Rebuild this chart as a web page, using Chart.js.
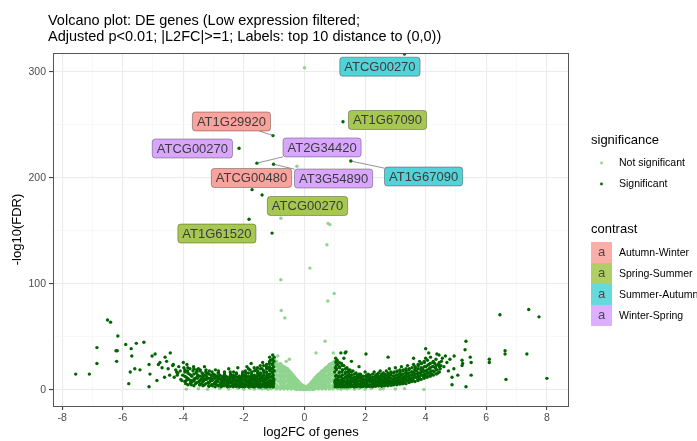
<!DOCTYPE html>
<html>
<head>
<meta charset="utf-8">
<script src="https://cdn.jsdelivr.net/npm/chart.js@4.4.0/dist/chart.umd.min.js"></script>
<style>
  html, body { margin: 0; padding: 0; background: #fff; }
  #wrap { width: 697px; height: 441px; }
</style>
</head>
<body>
<div id="wrap"><canvas id="volcano" width="697" height="441"></canvas></div>
<script>
// ---- data ----
const xTicks = [-8,-7,-6,-5,-4,-3,-2,-1,0,1,2,3,4,5,6,7,8];
const yTicks = [0,50,100,150,200,250,300];

const contrasts = ['Autumn-Winter', 'Spring-Summer', 'Summer-Autumn', 'Winter-Spring'];
const contrastColors = ['#F8766D', '#7CAE00', '#00BFC4', '#C77CFF'];

// labelled genes (box centre + the gene point it belongs to)
const labelGenes = ['ATCG00270','AT1G67090','AT2G34420','AT1G67090','AT3G54890','ATCG00480','AT1G29920','ATCG00270','ATCG00270','AT1G61520'];
const labelContrast = [2, 1, 3, 2, 3, 0, 0, 3, 1, 1];
const labelBoxX = [2.49, 2.74, 0.58, 3.93, 0.96, -1.75, -2.41, -3.70, 0.10, -2.89];
const labelBoxY = [305, 254.7, 228.8, 201.4, 199.5, 200, 253.3, 227.8, 173.6, 147.6];
const labelPtX = [3.3, 1.27, -1.57, 1.53, -1.02, -1.73, -1.04, -2.16, -1.4, -1.86];
const labelPtY = [317, 253, 214, 216, 213, 189, 240, 228, 184, 143.5];
const labelSegment = [0, 0, 1, 1, 1, 0, 1, 0, 0, 0];

// significant genes: high ones + outliers
const sigHigh = [[3.3,317],[1.27,253],[-1.57,214],[1.53,216],[-1.02,213],[-1.73,189],[-1.4,184],
  [-1.04,240],[-2.16,228],[-1.83,161],[-1.07,148],[-1.86,143.5]];
const sigOutLeft = [[-7.55,15],[-7.1,15],[-6.85,40],[-6.85,25],[-6.5,66],[-6.4,64],[-6.16,51],[-6.22,37],
  [-6.18,37],[-6.2,27],[-5.9,43],[-5.8,6],[-5.75,17],[-5.72,39],[-5.7,32],[-5.6,20],[-5.55,44],[-5.43,19],
  [-5.3,45],[-5.13,24],[-5.13,3],[-5.1,15],[-5.03,32],[-4.93,34],[-4.87,9],[-4.77,26],[-4.7,21],[-4.6,31],
  [-4.43,35],[-4.33,24],[-4.2,14],[-4.22,17],[-4.18,16],[-4.0,26],[-3.9,9],[-4.82,24],[-4.62,12],
  [-4.5,20],[-4.45,14],[-4.35,23],[-4.3,12],[-4.25,19],[-4.15,22],[-4.1,18],[-4.08,10],[-4.55,27]];
const sigLeft = [[-4.02,14],[-3.98,21],[-4.05,9],[-3.95,17],[-3.9,12],[-3.88,24],[-3.92,6],[-3.86,18],
  [-3.8,15],[-3.82,10],[-3.78,20],[-3.76,7],[-3.72,13],[-3.68,18],[-3.7,8],[-3.66,22],[-3.74,5],
  [-3.62,11],[-3.58,16],[-3.6,6],[-3.56,19],[-3.64,9],[-3.52,14],[-3.48,8],[-3.5,20],[-3.46,5],[-3.54,11],
  [-3.42,10],[-3.38,16],[-3.4,6],[-3.36,13],[-3.44,19],[-3.32,9],[-3.28,14],[-3.3,5],[-3.26,17],[-3.34,11],[-3.3,22],
  [-3.22,12],[-3.18,7],[-3.2,16],[-3.16,4],[-3.24,10],[-3.12,8],[-3.08,14],[-3.1,11],[-3.06,5],[-3.14,18],
  [-3.02,10],[-2.98,6],[-3.0,15],[-2.96,12],[-3.04,4],[-2.94,19],[-2.92,8],[-2.88,13],[-2.9,5],[-2.86,10],[-2.84,16],[-2.94,7],
  [-2.82,11],[-2.78,6],[-2.8,14],[-2.76,4],[-2.74,9],[-2.84,18],[-2.72,7],[-2.68,12],[-2.7,4],[-2.66,9],[-2.64,15],[-2.74,6],
  [-2.62,10],[-2.58,5],[-2.6,13],[-2.56,8],[-2.54,3.5],[-2.64,17],[-2.52,6],[-2.48,11],[-2.5,4],[-2.46,8],[-2.44,14],[-2.54,9],[-2.5,20],
  [-2.42,7],[-2.38,12],[-2.4,4],[-2.36,9],[-2.34,5],[-2.44,15],[-2.32,10],[-2.28,6],[-2.3,13],[-2.26,3.5],[-2.24,8],[-2.34,17],
  [-2.22,5],[-2.18,9],[-2.2,12],[-2.16,4],[-2.14,7],[-2.24,15],[-2.2,21],[-2.12,8],[-2.08,4],[-2.1,11],[-2.06,6],[-2.04,14],[-2.14,3],
  [-2.02,6],[-1.98,10],[-2.0,4],[-1.96,13],[-1.94,8],[-2.04,17],[-1.98,3],[-1.92,5],[-1.88,9],[-1.9,12],[-1.86,3.5],[-1.84,7],[-1.94,16],[-1.9,22],
  [-1.82,8],[-1.78,4],[-1.8,11],[-1.76,6],[-1.74,14],[-1.84,3],[-1.8,19],[-1.76,25],[-1.72,6],[-1.68,10],[-1.7,4],[-1.66,13],[-1.64,8],[-1.74,17],[-1.7,3],[-1.66,21],
  [-1.62,9],[-1.58,5],[-1.6,12],[-1.56,7],[-1.54,15],[-1.64,3.5],[-1.6,19],[-1.56,4],
  [-1.52,7],[-1.48,11],[-1.5,4],[-1.46,14],[-1.44,9],[-1.54,18],[-1.5,3],[-1.46,23],[-1.48,6],
  [-1.42,10],[-1.38,5],[-1.4,13],[-1.36,8],[-1.34,16],[-1.44,3],[-1.4,20],[-1.36,4],[-1.38,26],
  [-1.32,6],[-1.28,12],[-1.3,9],[-1.26,4],[-1.24,15],[-1.34,18],[-1.3,3],[-1.26,22],[-1.28,7],
  [-1.22,11],[-1.18,5],[-1.2,14],[-1.16,8],[-1.14,18],[-1.24,3],[-1.2,21],[-1.16,25],[-1.18,4],[-1.22,7],
  [-1.12,9],[-1.08,13],[-1.1,5],[-1.06,17],[-1.04,11],[-1.14,3],[-1.1,20],[-1.06,24],[-1.08,7],[-1.12,28],[-1.04,4],
  [-1.02,6],[-1.01,10],[-1.03,14],[-1.0,18],[-1.02,22],[-1.01,27],[-1.03,3],[-1.0,31],[-1.02,8],[-1.05,33],[-1.15,31]];
const sigRight = [[1.02,5],[1.01,9],[1.03,13],[1.0,17],[1.02,21],[1.04,26],[1.01,3],[1.03,30],[1.0,7],
  [1.08,8],[1.12,12],[1.1,4],[1.14,16],[1.06,20],[1.1,24],[1.12,3],[1.08,28],[1.14,6],[1.1,10],
  [1.18,5],[1.22,9],[1.2,13],[1.24,17],[1.16,21],[1.2,3],[1.22,25],[1.18,7],[1.24,11],
  [1.28,7],[1.32,11],[1.3,4],[1.34,15],[1.26,19],[1.3,23],[1.32,3],[1.28,9],
  [1.38,6],[1.42,10],[1.4,13],[1.44,4],[1.36,17],[1.4,21],[1.42,8],[1.38,3],
  [1.48,5],[1.52,9],[1.5,12],[1.54,3.5],[1.46,15],[1.5,19],[1.52,7],[1.58,8],[1.62,4],[1.6,11],[1.64,6],[1.56,14],[1.6,18],[1.62,3],
  [1.68,6],[1.72,10],[1.7,4],[1.74,13],[1.66,8],[1.7,16],[1.72,3],[1.78,5],[1.82,9],[1.8,12],[1.84,3.5],[1.76,7],[1.8,15],
  [1.88,8],[1.92,4],[1.9,11],[1.94,6],[1.86,14],[1.9,3],[1.98,6],[2.02,10],[2.0,4],[2.04,13],[1.96,8],[2.0,17],
  [2.08,5],[2.12,9],[2.1,12],[2.14,3.5],[2.06,7],[2.1,15],[2.18,8],[2.22,4],[2.2,11],[2.24,6],[2.16,14],
  [2.28,6],[2.32,10],[2.3,4],[2.34,13],[2.26,8],[2.3,17],[2.38,5],[2.42,9],[2.4,12],[2.44,4],[2.36,7],[2.4,15],
  [2.48,8],[2.52,5],[2.5,11],[2.54,14],[2.46,6],[2.5,18],[2.58,7],[2.62,10],[2.6,4.5],[2.64,13],[2.56,9],[2.6,16],
  [2.68,6],[2.72,11],[2.7,8],[2.74,14],[2.66,5],[2.7,18],[2.78,9],[2.82,6],[2.8,12],[2.84,15],[2.76,7],[2.8,20],
  [2.88,7],[2.92,10],[2.9,5],[2.94,13],[2.86,16],[2.98,8],[3.02,11],[3.0,6],[3.04,14],[2.96,17],[3.0,21],
  [3.08,9],[3.12,12],[3.1,7],[3.14,15],[3.06,18],[3.18,8],[3.22,11],[3.2,14],[3.24,6],[3.16,17],[3.2,22],
  [3.28,10],[3.32,13],[3.3,7],[3.34,16],[3.26,19],[3.38,9],[3.42,12],[3.4,15],[3.44,8],[3.36,18],[3.4,23],
  [3.48,11],[3.52,14],[3.5,8],[3.54,17],[3.46,20],[3.58,10],[3.62,13],[3.6,16],[3.64,19],[3.56,9],[3.6,24],
  [3.68,12],[3.72,15],[3.7,18],[3.74,10],[3.66,21],[3.78,13],[3.82,16],[3.8,11],[3.84,19],[3.76,23],[3.8,27],
  [3.88,14],[3.92,17],[3.9,20],[3.94,12],[3.86,25],[3.98,15],[4.02,18],[4.0,22],[4.04,13],[3.96,26],[4.0,30],
  [4.08,16],[4.12,20],[4.1,24],[4.14,14],[4.06,28],[4.18,18],[4.22,22],[4.2,15],[4.24,26],[4.16,31],
  [4.28,17],[4.32,21],[4.3,25],[4.34,29],[4.38,19],[4.42,24],[4.4,16],[4.44,33],[4.48,20],[4.52,27],[4.5,23],[4.55,30]];
const sigOutRight = [[1.2,35],[1.34,35],[1.37,36],[1.3,30],[1.55,27],[1.8,22],[2.03,34],[2.76,31],[3.6,30],[4.1,35],
  [4.37,34],[4.0,39],[4.6,22],[4.65,32],[4.7,26],[4.75,18],[4.8,29],[4.87,12],[4.87,5],[4.93,20],[4.94,32],
  [5.06,14],[5.2,28],[5.22,25],[5.2,23],[5.3,38],[5.33,46],[5.33,3],[5.47,31],[5.5,26],[5.5,14],[6.1,29],
  [6.1,26],[6.45,71],[6.62,37],[6.62,34],[6.65,10],[7.34,34],[7.4,76],[7.74,69],[8.0,11]];

// dense cores of the two significant bands, as columns (x, list of -log10 FDR)
const coreLX = [-3.95,-3.85,-3.75,-3.65,-3.55,-3.45,-3.35,-3.25,-3.15,-3.05,-2.95,-2.85,-2.75,-2.65,-2.55,
  -2.45,-2.35,-2.25,-2.15,-2.05,-1.95,-1.85,-1.75,-1.65,-1.55,-1.45,-1.35,-1.25,-1.15,-1.05];
const coreLY = [[8,13,19],[5,11,16,21],[9,14,6],[4,10,15,20],[7,12,17],[5,9,13,18],[4,8,12,15],[6,10,14,19],
  [3.5,7,11,15],[5,9,13,17],[3,7,11,14],[4,8,12,16],[3,6,10,13],[4,7,11,14],[3,6,9,12],[3.5,7,10,13,17],
  [3,5,8,11,14],[3.5,6,9,12,16],[3,5,8,10,13],[3,6,9,12,15],[3.5,5,8,11,14,18],[3,6,9,13,16,20],
  [3.5,5,8,10,12,15],[3,6,9,11,14,18],[3.5,5,8,10,13,16,21],[3,6,9,12,16,20],[3.5,5,7,11,14,18,23],
  [3,6,10,13,17,20,24],[3.5,6,9,12,15,19,22,27],[3,5,8,12,16,20,25,29]];
const coreRX = [1.05,1.15,1.25,1.35,1.45,1.55,1.65,1.75,1.85,1.95,2.05,2.15,2.25,2.35,2.45,2.55,2.65,2.75,
  2.85,2.95,3.05,3.15,3.25,3.35,3.45,3.55,3.65,3.75,3.85,3.95,4.05,4.15,4.25,4.35,4.45];
const coreRY = [[3,6,10,14,19,23,27],[3.5,5,9,13,17,22,26],[3,6,10,14,19,23],[3.5,5,8,12,16,20],[3,6,9,13,17,19],
  [3.5,5,8,11,14,17],[3,6,9,12,15],[3.5,5,8,11,14],[3,6,9,12,15],[3.5,5,7,10,13],[3,6,9,12,14],[3.5,5,8,10,13],
  [3,6,9,12,15],[3.5,5,8,11,14],[4,7,10,13,16],[3.5,6,9,12,15],[4,7,10,12,15],[4,6,9,12,16],[4.5,8,11,14,17],
  [5,7,10,13,16],[5,8,11,14,17],[5.5,9,12,15,19],[6,9,12,15,18],[6,10,13,16,20],[7,10,13,16,19],[8,11,14,17,21],
  [8,12,15,18,22],[9,13,16,20,24],[10,14,17,21,25],[11,14,18,22,27],[12,16,19,23],[13,17,21,25],[14,18,22,27],
  [15,19,23],[17,22,26]];

// not significant: centre cloud as columns (x, list of -log10 FDR)
const nsColX = [-0.98,-0.95,-0.92,-0.89,-0.86,-0.83,-0.8,-0.77,-0.74,-0.71,-0.68,-0.65,-0.62,-0.59,-0.56,-0.53,
  -0.5,-0.47,-0.44,-0.41,-0.38,-0.35,-0.32,-0.29,-0.26,-0.23,-0.2,-0.17,-0.14,-0.11,-0.08,-0.05,-0.02,0.01,
  0.04,0.07,0.1,0.13,0.16,0.19,0.22,0.25,0.28,0.31,0.34,0.37,0.4,0.43,0.46,0.49,0.52,0.55,0.58,0.61,0.64,
  0.67,0.7,0.73,0.76,0.79,0.82,0.85,0.88,0.91,0.94,0.97,0.98];
const nsColY = [[2,7,13,19,25,28],[4,10,16,22,26],[1,5,11,17,22,27],[3,9,14,19,24],[3,8,14,20,24],[2,8,13,18,23],
  [1,6,11,16,21,25],[4,9,14,20,24],[2,7,12,18,23],[3,8,13,17,21],[1,5,10,15,19,22],[2,7,12,16,20],[3,8,13,17,21],
  [4,9,13,17,20],[1,5,10,14,18,20],[3,8,12,16,19],[2,6,11,15,18],[3,7,10,14,17],[1,4,8,12,16],[2,6,10,13,15],
  [2,5,9,12,14],[3,6,9,11,13],[1,4,7,10,12],[2,5,8,10,11],[0.5,3,6,8,10],[2,4,6,8,9],[1,3,5,7,8],[1.5,3,5,7],
  [0.5,2,4,6],[1.5,3,4.5,5.5],[1,2.5,4.5],[0.5,1.5,3,4],[0.5,2,3.5],[1,2.5,3.5],[0.5,1.5,3],[1,2,3],[1,2,3.5],
  [1.5,3,4.5],[0.5,2.5,5],[1.5,3.5,5,6],[1,3,5,7],[2,4,6,8],[0.5,3,6,9],[2,5,7,9,10],[1,4,7,9,11],[3,6,9,11,12],
  [2,5,8,11,13],[3,6,10,12,14],[1,4,8,12,15],[3,7,10,13,15],[2,6,10,13,16],[3,8,11,14,17],[1,5,9,13,16,18],
  [4,8,12,16,18],[2,6,11,15,19],[3,8,13,17,20],[1,5,10,14,18,21],[4,9,14,18,21],[3,7,12,17,22],[3,9,14,19,23],
  [1,6,11,16,20,24],[4,10,15,20,24],[2,8,13,18,22,25],[3,9,15,20,25],[1,5,10,15,20,26],[4,11,17,22,26],[3,9,14,19,24,27]];
const nsOther = [[0.0,304],[-0.25,211],[-0.78,162],[0.78,157],[0.84,156],[0.74,137],[0.18,115],[0.77,84],
  [0.98,91],[0.68,46],[0.38,35],[0.95,35],[-0.78,104],[-0.77,75],[-0.65,68],[-0.5,29],[-0.88,32],[-0.6,27],
  [-3.9,0.8],[-3.5,1.2],[-3.2,0.6],[-2.8,1.4],[-2.5,0.9],[-2.2,1.5],[-2.0,0.7],[-1.8,1.3],[-1.65,0.8],
  [-1.5,1.6],[-1.4,0.9],[-1.3,1.5],[-1.2,0.6],[-1.1,1.2],[1.1,1.2],[1.2,0.6],[1.3,1.5],[1.4,0.9],[1.5,1.6],
  [1.65,0.8],[1.8,1.3],[2.0,0.7],[2.2,1.4],[2.5,0.8],[2.6,1.2],[3.0,0.9],[3.3,1.3],[3.94,0.5]];

// ---- helpers ----
const pts = arr => arr.map(p => ({ x: p[0], y: p[1] }));
const cols = (xs, ys) => {
  const out = [];
  xs.forEach((x, i) => ys[i].forEach(y => out.push({ x: x, y: y })));
  return out;
};

const FONT = '"Liberation Sans", Arial, sans-serif';
const SIG = '#006400';
const NS = '#8fd48f';

function alphaMix(hex, a) {
  const r = parseInt(hex.slice(1, 3), 16), g = parseInt(hex.slice(3, 5), 16), b = parseInt(hex.slice(5, 7), 16);
  const m = c => Math.round(c * a + 255 * (1 - a));
  return 'rgb(' + m(r) + ',' + m(g) + ',' + m(b) + ')';
}

function roundRect(ctx, x, y, w, h, r) {
  ctx.beginPath();
  ctx.moveTo(x + r, y);
  ctx.lineTo(x + w - r, y);
  ctx.quadraticCurveTo(x + w, y, x + w, y + r);
  ctx.lineTo(x + w, y + h - r);
  ctx.quadraticCurveTo(x + w, y + h, x + w - r, y + h);
  ctx.lineTo(x + r, y + h);
  ctx.quadraticCurveTo(x, y + h, x, y + h - r);
  ctx.lineTo(x, y + r);
  ctx.quadraticCurveTo(x, y, x + r, y);
  ctx.closePath();
}

const deco = {
  id: 'deco',
  beforeDraw(chart) {
    const ctx = chart.ctx;
    ctx.save();
    ctx.fillStyle = '#fff';
    ctx.fillRect(0, 0, chart.width, chart.height);
    ctx.restore();
  },
  afterDatasetsDraw(chart) {
    const ctx = chart.ctx, a = chart.chartArea;
    const xs = chart.scales.x, ys = chart.scales.y;
    ctx.save();
    // panel border
    ctx.strokeStyle = '#555';
    ctx.lineWidth = 1;
    ctx.strokeRect(a.left + 0.5, a.top + 0.5, a.right - a.left - 1, a.bottom - a.top);

    ctx.font = '13px ' + FONT;
    const boxes = labelGenes.map((g, i) => {
      const w = ctx.measureText(g).width + 9, h = 19;
      const cx = xs.getPixelForValue(labelBoxX[i]), cy = ys.getPixelForValue(labelBoxY[i]);
      return { x: cx - w / 2, y: cy - h / 2, w: w, h: h, cx: cx, cy: cy };
    });
    // segments
    ctx.strokeStyle = '#666';
    ctx.lineWidth = 0.7;
    boxes.forEach((b, i) => {
      if (!labelSegment[i]) return;
      const px = xs.getPixelForValue(labelPtX[i]), py = ys.getPixelForValue(labelPtY[i]);
      const dx = b.cx - px, dy = b.cy - py;
      let t = 1;
      if (dx !== 0) t = Math.min(t, Math.abs((b.w / 2) / dx));
      if (dy !== 0) t = Math.min(t, Math.abs((b.h / 2) / dy));
      const ex = b.cx - dx * t, ey = b.cy - dy * t;
      ctx.beginPath();
      ctx.moveTo(px, py);
      ctx.lineTo(ex, ey);
      ctx.stroke();
    });
    // labels
    boxes.forEach((b, i) => {
      roundRect(ctx, b.x, b.y, b.w, b.h, 3);
      ctx.fillStyle = alphaMix(contrastColors[labelContrast[i]], 0.68);
      ctx.fill();
      ctx.strokeStyle = 'rgba(0,0,0,0.4)';
      ctx.lineWidth = 0.8;
      ctx.stroke();
      ctx.fillStyle = '#3c3c3c';
      ctx.textAlign = 'center';
      ctx.textBaseline = 'middle';
      ctx.fillText(labelGenes[i], b.cx, b.cy + 0.5);
    });
    ctx.restore();
  },
  afterDraw(chart) {
    const ctx = chart.ctx, a = chart.chartArea;
    ctx.save();
    ctx.fillStyle = '#000';
    ctx.textAlign = 'left';
    ctx.textBaseline = 'alphabetic';
    ctx.font = '14.5px ' + FONT;
    ctx.fillText('Volcano plot: DE genes (Low expression filtered;', 48, 25);
    ctx.fillText('Adjusted p<0.01; |L2FC|>=1; Labels: top 10 distance to (0,0))', 48, 41);

    // axis titles
    ctx.font = '13px ' + FONT;
    ctx.textAlign = 'center';
    ctx.fillText('log2FC of genes', (a.left + a.right) / 2, 436);
    ctx.save();
    ctx.translate(21, (a.top + a.bottom) / 2);
    ctx.rotate(-Math.PI / 2);
    ctx.fillText('-log10(FDR)', 0, 0);
    ctx.restore();

    // legend: significance
    ctx.textAlign = 'left';
    ctx.font = '13px ' + FONT;
    ctx.fillText('significance', 591, 144);
    ctx.fillText('contrast', 591, 233);
    ctx.font = '10.5px ' + FONT;
    ctx.textBaseline = 'middle';
    [['Not significant', NS, 163], ['Significant', SIG, 184]].forEach(it => {
      ctx.fillStyle = it[1];
      ctx.beginPath();
      ctx.arc(601.5, it[2], 1.4, 0, Math.PI * 2);
      ctx.fill();
      ctx.fillStyle = '#000';
      ctx.fillText(it[0], 619, it[2]);
    });
    // legend: contrast
    contrasts.forEach((c, i) => {
      const y0 = 242 + i * 21;
      ctx.fillStyle = alphaMix(contrastColors[i], 0.6);
      ctx.fillRect(591, y0, 21, 21);
      ctx.fillStyle = '#4a4a4a';
      ctx.textAlign = 'center';
      ctx.font = '13px ' + FONT;
      ctx.fillText('a', 601.5, y0 + 10);
      ctx.fillStyle = '#000';
      ctx.textAlign = 'left';
      ctx.font = '10.5px ' + FONT;
      ctx.fillText(c, 619, y0 + 11);
    });
    ctx.restore();
  }
};

const isMajorX = v => v % 2 === 0;
const isMajorY = v => v % 100 === 0;

new Chart(document.getElementById('volcano'), {
  type: 'scatter',
  data: {
    datasets: [
      {
        label: 'Significant',
        data: pts(sigLeft).concat(cols(coreLX, coreLY), pts(sigRight), cols(coreRX, coreRY),
          pts(sigOutLeft), pts(sigOutRight), pts(sigHigh)),
        backgroundColor: SIG,
        pointRadius: 1.7,
        borderWidth: 0
      },
      {
        label: 'Not significant',
        data: cols(nsColX, nsColY).concat(pts(nsOther)),
        backgroundColor: NS,
        pointRadius: 1.7,
        borderWidth: 0
      }
    ]
  },
  options: {
    responsive: false,
    animation: false,
    devicePixelRatio: 1,
    layout: { padding: { left: 0, right: 128, top: 53, bottom: 0 } },
    plugins: { legend: { display: false }, tooltip: { enabled: false }, title: { display: false } },
    scales: {
      x: {
        type: 'linear',
        min: -8.3,
        max: 8.73,
        afterBuildTicks: s => { s.ticks = xTicks.map(v => ({ value: v })); },
        afterFit: s => { s.height = 35; },
        border: { display: false },
        grid: {
          color: c => (c.tick && isMajorX(c.tick.value)) ? '#ebebeb' : '#f5f5f5',
          lineWidth: c => (c.tick && isMajorX(c.tick.value)) ? 1.1 : 0.7,
          tickColor: c => (c.tick && isMajorX(c.tick.value)) ? '#444' : 'rgba(0,0,0,0)',
          tickLength: 4
        },
        ticks: {
          autoSkip: false,
          maxRotation: 0,
          padding: 2,
          color: '#4d4d4d',
          font: { family: FONT, size: 10.5 },
          callback: v => isMajorX(v) ? String(v) : ''
        }
      },
      y: {
        type: 'linear',
        min: -15.1,
        max: 317.9,
        afterBuildTicks: s => { s.ticks = yTicks.map(v => ({ value: v })); },
        afterFit: s => { s.width = 53; },
        border: { display: false },
        grid: {
          color: c => (c.tick && isMajorY(c.tick.value)) ? '#ebebeb' : '#f5f5f5',
          lineWidth: c => (c.tick && isMajorY(c.tick.value)) ? 1.1 : 0.7,
          tickColor: c => (c.tick && isMajorY(c.tick.value)) ? '#444' : 'rgba(0,0,0,0)',
          tickLength: 4
        },
        ticks: {
          autoSkip: false,
          padding: 3,
          color: '#4d4d4d',
          font: { family: FONT, size: 10.5 },
          callback: v => isMajorY(v) ? String(v) : ''
        }
      }
    }
  },
  plugins: [deco]
});
</script>
</body>
</html>
